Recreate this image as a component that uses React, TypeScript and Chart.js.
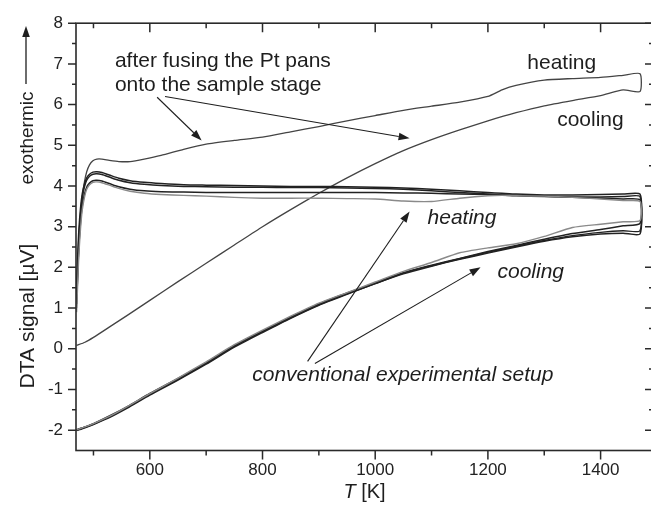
import { useEffect, useRef } from "react";
import { Chart, registerables } from "chart.js";

Chart.register(...registerables);

// ---- data ----
const T_HEAT = [470, 472, 474, 477, 480, 484, 488, 493, 499, 506, 515, 528, 545, 565, 590, 620, 660, 700, 750, 800, 850, 900, 950, 1000, 1050, 1100, 1150, 1200, 1225, 1250, 1300, 1350, 1400, 1440, 1470];
const T_COOL = [1470, 1440, 1400, 1350, 1300, 1250, 1200, 1150, 1100, 1050, 1000, 950, 900, 850, 800, 750, 700, 650, 600, 560, 530, 500, 485, 470];

// after fusing the Pt pans onto the sample stage
const FUSED_HEAT = [1.0, 1.8, 2.5, 3.2, 3.7, 4.1, 4.35, 4.52, 4.62, 4.66, 4.66, 4.63, 4.6, 4.6, 4.66, 4.75, 4.9, 5.03, 5.12, 5.2, 5.33, 5.46, 5.6, 5.73, 5.86, 5.96, 6.06, 6.2, 6.36, 6.47, 6.6, 6.64, 6.67, 6.72, 6.76];
const FUSED_COOL = [6.32, 6.36, 6.22, 6.1, 5.97, 5.8, 5.6, 5.38, 5.14, 4.87, 4.55, 4.2, 3.82, 3.42, 3.0, 2.55, 2.1, 1.65, 1.19, 0.82, 0.55, 0.28, 0.16, 0.08];

// conventional experimental setup, four runs
const CONV_HEAT_A = [1.6, 2.3, 2.9, 3.45, 3.8, 4.05, 4.2, 4.29, 4.34, 4.35, 4.33, 4.27, 4.19, 4.13, 4.09, 4.06, 4.03, 4.02, 4.01, 4.0, 3.99, 3.99, 3.98, 3.97, 3.95, 3.92, 3.88, 3.84, 3.82, 3.8, 3.78, 3.78, 3.79, 3.8, 3.8];
const CONV_HEAT_B = [1.3, 2.0, 2.7, 3.3, 3.7, 3.98, 4.14, 4.24, 4.29, 4.3, 4.28, 4.22, 4.14, 4.08, 4.04, 4.01, 3.99, 3.98, 3.97, 3.97, 3.96, 3.96, 3.95, 3.94, 3.92, 3.88, 3.84, 3.8, 3.78, 3.76, 3.74, 3.73, 3.73, 3.74, 3.74];
const CONV_HEAT_C = [1.1, 1.8, 2.5, 3.1, 3.5, 3.8, 3.97, 4.07, 4.13, 4.14, 4.12, 4.06, 3.98, 3.92, 3.88, 3.86, 3.85, 3.84, 3.84, 3.84, 3.84, 3.84, 3.84, 3.84, 3.83, 3.82, 3.8, 3.79, 3.78, 3.77, 3.75, 3.72, 3.7, 3.68, 3.66];
const CONV_HEAT_D = [0.9, 1.6, 2.3, 2.95, 3.4, 3.72, 3.92, 4.03, 4.09, 4.1, 4.08, 4.02, 3.94, 3.87, 3.82, 3.79, 3.77, 3.75, 3.72, 3.7, 3.7, 3.7, 3.69, 3.68, 3.63, 3.62, 3.7, 3.76, 3.77, 3.76, 3.75, 3.72, 3.68, 3.64, 3.62];

const CONV_COOL_A = [3.08, 3.02, 2.93, 2.83, 2.69, 2.54, 2.39, 2.22, 2.05, 1.86, 1.6, 1.35, 1.08, 0.76, 0.42, 0.06, -0.36, -0.75, -1.12, -1.44, -1.66, -1.85, -1.93, -2.0];
const CONV_COOL_B = [2.82, 2.84, 2.82, 2.75, 2.64, 2.5, 2.35, 2.2, 2.03, 1.84, 1.6, 1.34, 1.07, 0.75, 0.4, 0.04, -0.38, -0.77, -1.14, -1.46, -1.68, -1.86, -1.94, -2.01];
const CONV_COOL_C = [2.9, 2.9, 2.86, 2.78, 2.66, 2.52, 2.37, 2.21, 2.04, 1.87, 1.62, 1.37, 1.1, 0.78, 0.44, 0.08, -0.34, -0.73, -1.1, -1.42, -1.64, -1.84, -1.92, -1.99];
const CONV_COOL_D = [3.15, 3.12, 3.06, 2.98, 2.76, 2.58, 2.48, 2.36, 2.12, 1.9, 1.64, 1.38, 1.12, 0.8, 0.46, 0.1, -0.32, -0.72, -1.1, -1.42, -1.65, -1.84, -1.92, -1.99];

// axes
const X_MIN = 469;
const X_MAX = 1493;
const Y_MIN = -2.5;
const Y_MAX = 8;
const X_TICK_LABELS = [600, 800, 1000, 1200, 1400];
const X_MINOR_TICKS = [500, 600, 700, 800, 900, 1000, 1100, 1200, 1300, 1400];
const Y_TICK_LABELS = [-2, -1, 0, 1, 2, 3, 4, 5, 6, 7, 8];
const Y_MINOR_TICKS = [-2, -1.5, -1, -0.5, 0, 0.5, 1, 1.5, 2, 2.5, 3, 3.5, 4, 4.5, 5, 5.5, 6, 6.5, 7, 7.5, 8];

// annotations (data coordinates)
const LABELS = [
  { text: "after fusing the Pt pans", x: 538, y: 7.06, italic: false, align: "left" },
  { text: "onto the sample stage", x: 538, y: 6.47, italic: false, align: "left" },
  { text: "heating", x: 1331, y: 7.01, italic: false, align: "center" },
  { text: "cooling", x: 1382, y: 5.61, italic: false, align: "center" },
  { text: "heating", x: 1154, y: 3.2, italic: true, align: "center" },
  { text: "cooling", x: 1276, y: 1.88, italic: true, align: "center" },
  { text: "conventional experimental setup", x: 1049, y: -0.65, italic: true, align: "center" },
];
const ARROWS = [
  { x1: 613, y1: 6.18, x2: 692, y2: 5.12 },
  { x1: 627, y1: 6.2, x2: 1061, y2: 5.17 },
  { x1: 880, y1: -0.31, x2: 1061, y2: 3.37 },
  { x1: 893, y1: -0.36, x2: 1187, y2: 2.0 },
];

const FONT = '"Liberation Sans", Arial, Helvetica, sans-serif';

function run(heat: number[], cool: number[]) {
  return [
    ...T_HEAT.map((t, i) => ({ x: t, y: heat[i] })),
    ...T_COOL.map((t, i) => ({ x: t, y: cool[i] })),
  ];
}

function arrow(ctx: CanvasRenderingContext2D, x1: number, y1: number, x2: number, y2: number) {
  const ang = Math.atan2(y2 - y1, x2 - x1);
  const hl = 11;
  const hw = 3.8;
  const bx = x2 - hl * Math.cos(ang);
  const by = y2 - hl * Math.sin(ang);
  ctx.beginPath();
  ctx.moveTo(x1, y1);
  ctx.lineTo(bx, by);
  ctx.stroke();
  ctx.beginPath();
  ctx.moveTo(x2, y2);
  ctx.lineTo(bx + hw * Math.sin(ang), by - hw * Math.cos(ang));
  ctx.lineTo(bx - hw * Math.sin(ang), by + hw * Math.cos(ang));
  ctx.closePath();
  ctx.fill();
}

const decorPlugin = {
  id: "decor",
  afterDraw(chart: any) {
    const { ctx, chartArea: a } = chart;
    const xs = chart.scales.x;
    const ys = chart.scales.y;
    ctx.save();
    ctx.strokeStyle = "#2a2a2a";
    ctx.fillStyle = "#2a2a2a";
    ctx.lineWidth = 1.6;
    ctx.strokeRect(a.left, a.top, a.right - a.left, a.bottom - a.top);
    ctx.lineWidth = 1.5;
    ctx.beginPath();
    for (const v of X_MINOR_TICKS) {
      const px = xs.getPixelForValue(v);
      const len = X_TICK_LABELS.includes(v) ? 9 : 5;
      ctx.moveTo(px, a.bottom);
      ctx.lineTo(px, a.bottom + len);
      ctx.moveTo(px, a.top);
      ctx.lineTo(px, a.top + len);
    }
    for (const v of Y_MINOR_TICKS) {
      const py = ys.getPixelForValue(v);
      const len = Y_TICK_LABELS.includes(v) ? 8 : 4;
      ctx.moveTo(a.left - len, py);
      ctx.lineTo(a.left, py);
      ctx.moveTo(a.right - len, py);
      ctx.lineTo(a.right, py);
    }
    ctx.stroke();

    // annotation texts
    ctx.fillStyle = "#1e1e1e";
    ctx.textBaseline = "middle";
    for (const l of LABELS) {
      ctx.font = `${l.italic ? "italic " : ""}21px ${FONT}`;
      ctx.textAlign = l.align as CanvasTextAlign;
      ctx.fillText(l.text, xs.getPixelForValue(l.x), ys.getPixelForValue(l.y));
    }
    // arrows
    ctx.strokeStyle = "#1e1e1e";
    ctx.fillStyle = "#1e1e1e";
    ctx.lineWidth = 1.1;
    for (const r of ARROWS) {
      arrow(ctx, xs.getPixelForValue(r.x1), ys.getPixelForValue(r.y1), xs.getPixelForValue(r.x2), ys.getPixelForValue(r.y2));
    }

    // y title
    ctx.save();
    ctx.translate(28, 0);
    ctx.rotate(-Math.PI / 2);
    ctx.textAlign = "center";
    ctx.textBaseline = "middle";
    ctx.font = `21px ${FONT}`;
    ctx.fillText("DTA signal [\u00B5V]", -316, 0);
    ctx.font = `19px ${FONT}`;
    ctx.fillText("exothermic", -138, 0);
    ctx.restore();
    ctx.lineWidth = 1.3;
    arrow(ctx, 26, 84, 26, 26);

    // x title
    ctx.font = `italic 20px ${FONT}`;
    const w1 = ctx.measureText("T").width;
    ctx.font = `20px ${FONT}`;
    const w2 = ctx.measureText(" [K]").width;
    const cx = (a.left + 651) / 2 + 1;
    const x0 = cx - (w1 + w2) / 2;
    ctx.textAlign = "left";
    ctx.textBaseline = "middle";
    ctx.font = `italic 20px ${FONT}`;
    ctx.fillText("T", x0, 492);
    ctx.font = `20px ${FONT}`;
    ctx.fillText(" [K]", x0 + w1, 492);
    ctx.restore();
  },
};

export default function App() {
  const ref = useRef<HTMLCanvasElement | null>(null);
  useEffect(() => {
    document.body.style.margin = "0";
    const dark = "#222222";
    const grey = "#8a8a8a";
    const mk = (data: any[], color: string, width: number) => ({
      data,
      borderColor: color,
      borderWidth: width,
      pointRadius: 0,
      tension: 0.2,
      fill: false,
    });
    const chart = new Chart(ref.current as HTMLCanvasElement, {
      type: "line",
      data: {
        datasets: [
          mk(run(CONV_HEAT_D, CONV_COOL_D), grey, 1.4),
          mk(run(CONV_HEAT_C, CONV_COOL_C), dark, 1.5),
          mk(run(CONV_HEAT_B, CONV_COOL_B), dark, 1.5),
          mk(run(CONV_HEAT_A, CONV_COOL_A), dark, 1.5),
          mk(run(FUSED_HEAT, FUSED_COOL), "#444444", 1.3),
        ],
      },
      options: {
        animation: false,
        responsive: false,
        parsing: true,
        layout: { padding: { top: 22.7, right: 7, left: 0, bottom: 0 } },
        plugins: { legend: { display: false }, tooltip: { enabled: false } },
        scales: {
          x: {
            type: "linear",
            min: X_MIN,
            max: X_MAX,
            grid: { display: false, drawTicks: false, tickLength: 0 },
            border: { display: false },
            afterBuildTicks: (s: any) => {
              s.ticks = X_TICK_LABELS.map((v) => ({ value: v }));
            },
            afterFit: (s: any) => {
              s.height = 57.5;
            },
            ticks: {
              padding: 10,
              maxRotation: 0,
              color: "#222",
              font: { family: FONT, size: 17 },
              callback: (v: any) => String(v),
            },
          },
          y: {
            type: "linear",
            min: Y_MIN,
            max: Y_MAX,
            grid: { display: false, drawTicks: false, tickLength: 0 },
            border: { display: false },
            afterBuildTicks: (s: any) => {
              s.ticks = Y_TICK_LABELS.map((v) => ({ value: v }));
            },
            afterFit: (s: any) => {
              s.width = 76;
            },
            ticks: {
              padding: 13,
              color: "#222",
              font: { family: FONT, size: 17 },
              callback: (v: any) => String(v),
            },
          },
        },
      },
      plugins: [decorPlugin],
    });
    return () => chart.destroy();
  }, []);
  return (
    <div style={{ position: "fixed", left: 0, top: 0, width: 651, height: 508, overflow: "hidden", background: "#fff" }}>
      <canvas ref={ref} width={660} height={508} style={{ display: "block" }} />
    </div>
  );
}
